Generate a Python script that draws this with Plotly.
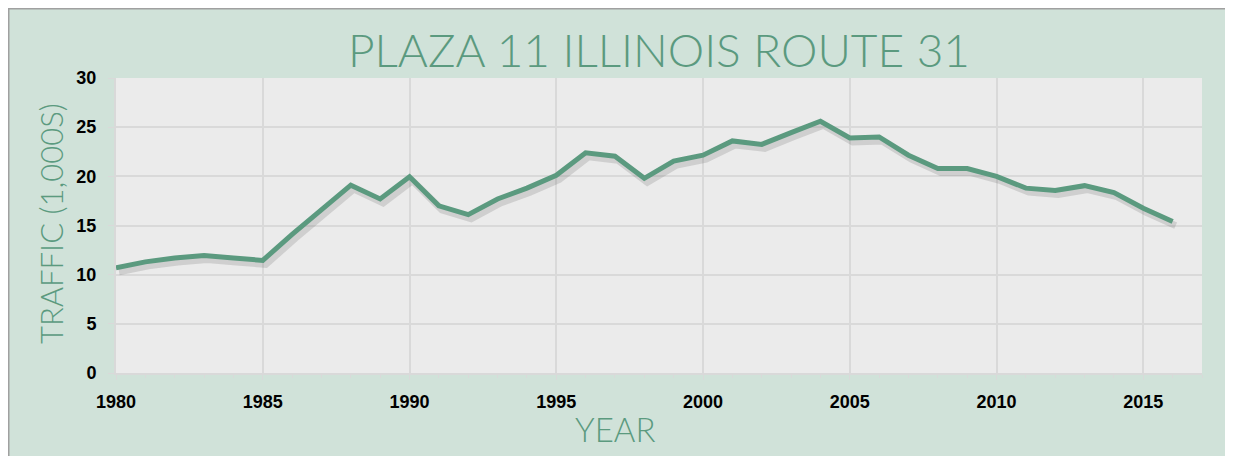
import plotly.graph_objects as go

# ---- data ----
years = list(range(1980, 2017))
traffic = [10.7, 11.3, 11.7, 11.95, 11.7, 11.45, 14.1, 16.6, 19.1, 17.7,
           19.95, 17.0, 16.1, 17.7, 18.8, 20.1, 22.4, 22.05, 19.8, 21.55,
           22.15, 23.6, 23.25, 24.45, 25.6, 23.9, 24.0, 22.15, 20.8, 20.8,
           20.0, 18.8, 18.55, 19.05, 18.35, 16.75, 15.4]
x_ticks = [1980, 1985, 1990, 1995, 2000, 2005, 2010, 2015]
y_ticks = [0, 5, 10, 15, 20, 25, 30]

title_text = "PLAZA 11 ILLINOIS ROUTE 31"
x_title = "YEAR"
y_title = "TRAFFIC (1,000S)"

# ---- layout geometry (page is offset by the 8px body margin) ----
OFF = 8
W, H = 1233 - OFF, 456 - OFF
PL, PR, PT, PB = 116, 1202, 78, 373          # plot area in page pixels
ML, MR, MT, MB = PL - OFF, W - (PR - OFF), PT - OFF, H - (PB - OFF)
PW, PH = PR - PL, PB - PT
XR = [1980, 2017]
YR = [0, 30]

def px_x(px):
    return (px - PL) / PW

def px_y(py):
    return (PB - py) / PH

GREEN = "#5B9A7F"
BG = "#D0E2D9"
PLOT_BG = "#EBEBEB"
GRID = "#D9D9D9"

# shadow offset in pixels converted to data units
sx = 3 * (XR[1] - XR[0]) / PW
sy = 4 * (YR[1] - YR[0]) / PH

fig = go.Figure()
fig.add_trace(go.Scatter(x=years, y=traffic, mode="lines",
                         line=dict(color="rgba(0,0,0,0)", width=1),
                         hoverinfo="skip", showlegend=False))
fig.add_trace(go.Scatter(x=years, y=traffic, mode="lines", xaxis="x2", yaxis="y2",
                         line=dict(color="rgba(60,60,60,0.16)", width=7),
                         hoverinfo="skip", showlegend=False))
fig.add_trace(go.Scatter(x=years, y=traffic, mode="lines", xaxis="x3", yaxis="y3",
                         line=dict(color=GREEN, width=5), showlegend=False))

tickfont = dict(family="Liberation Sans, Arial", size=18, color="#000000", weight="bold")
light = dict(family="Lato", color=GREEN, weight=300)

fig.update_layout(
    width=W, height=H,
    margin=dict(l=ML, r=MR, t=MT, b=MB),
    paper_bgcolor=BG, plot_bgcolor=PLOT_BG,
    showlegend=False,
    xaxis=dict(range=XR, tickvals=x_ticks, showgrid=True, gridcolor=GRID, gridwidth=2,
               zeroline=False, showline=True, linecolor=GRID, linewidth=2,
               ticks="outside", ticklen=5, tickcolor=GRID, tickwidth=1,
               minor=dict(dtick=1, ticks="outside", ticklen=3, tickcolor=GRID, showgrid=False),
               tickfont=tickfont, ticklabelstandoff=6),
    yaxis=dict(range=YR, tickvals=y_ticks, showgrid=True, gridcolor=GRID, gridwidth=2,
               zeroline=False, showline=True, linecolor=GRID, linewidth=2,
               ticks="outside", ticklen=6, tickcolor=GRID, tickwidth=1,
               tickfont=tickfont, ticklabelstandoff=8),
    xaxis2=dict(range=[XR[0] - sx, XR[1] - sx], overlaying="x", visible=False),
    yaxis2=dict(range=[YR[0] + sy, YR[1] + sy], overlaying="y", visible=False),
    xaxis3=dict(range=XR, overlaying="x", visible=False),
    yaxis3=dict(range=YR, overlaying="y", visible=False),
    annotations=[
        dict(text=title_text, xref="paper", yref="paper", x=0.5, y=px_y(50),
             xanchor="center", yanchor="middle", showarrow=False,
             font=dict(size=46, **light)),
        dict(text=y_title, xref="paper", yref="paper", x=px_x(51), y=px_y(224),
             xanchor="center", yanchor="middle", textangle=-90, showarrow=False,
             font=dict(size=31, **light)),
        dict(text=x_title, xref="paper", yref="paper", x=px_x(614.5), y=px_y(429),
             xanchor="center", yanchor="middle", showarrow=False,
             font=dict(size=33, **light)),
    ],
    shapes=[
        dict(type="line", xref="paper", yref="paper", x0=px_x(OFF), x1=px_x(1240),
             y0=px_y(OFF + 0.75), y1=px_y(OFF + 0.75), line=dict(color="#A0A0A0", width=1.5),
             layer="above"),
        dict(type="line", xref="paper", yref="paper", x0=px_x(OFF + 0.75), x1=px_x(OFF + 0.75),
             y0=px_y(OFF), y1=px_y(470), line=dict(color="#A0A0A0", width=1.5), layer="above"),
    ],
)

fig.write_html("out.html")
